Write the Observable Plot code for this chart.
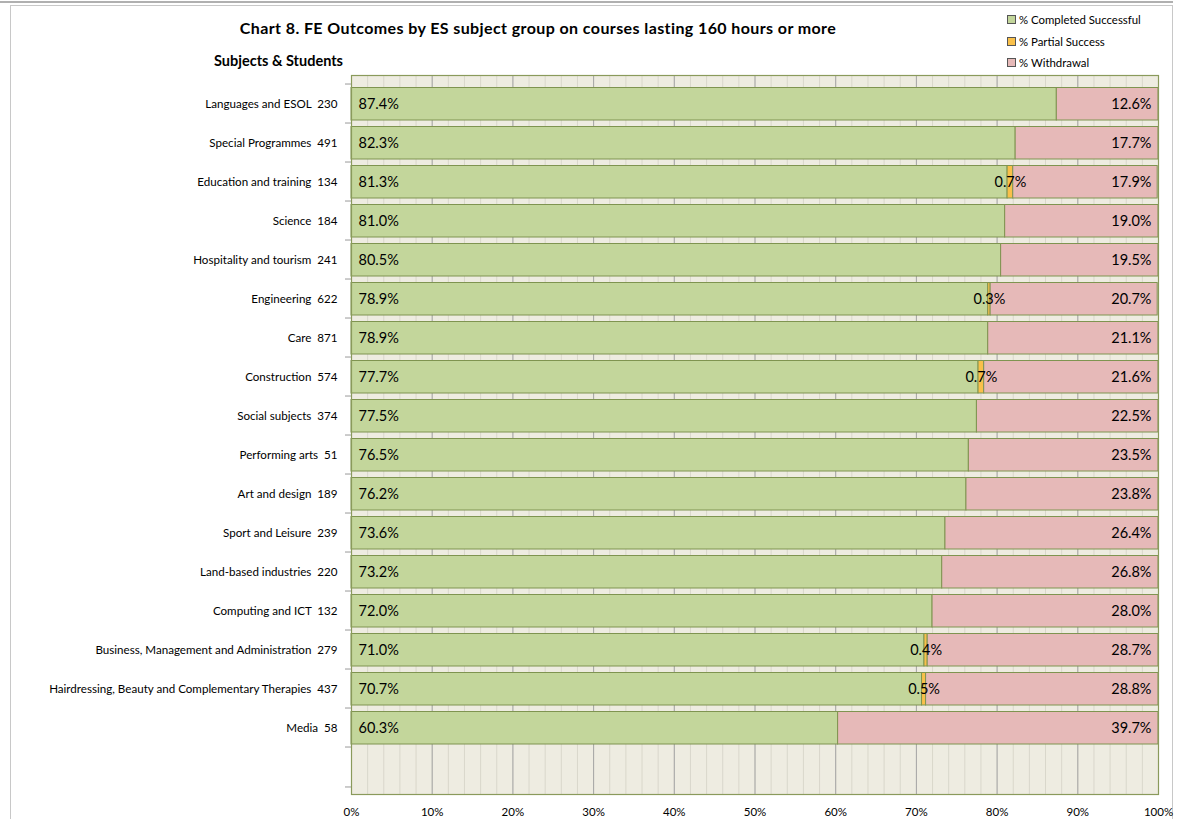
<!DOCTYPE html>
<html>
<head>
<meta charset="utf-8">
<script src="https://cdn.jsdelivr.net/npm/d3@7"></script>
<script src="https://cdn.jsdelivr.net/npm/@observablehq/plot@0.6"></script>
<style>
  html, body { margin: 0; padding: 0; background: #fff; }
  body { width: 1183px; height: 819px; position: relative; overflow: hidden; font-family: Lato, "Open Sans", sans-serif; }
  #topline { position: absolute; left: 0; top: 1px; width: 1173px; height: 0; border-top: 2px solid #b0b0b0; }
  #box { position: absolute; left: 10px; top: 5px; width: 1161px; height: 830px; border: 1px solid #c8c8c8; }
  #chart { position: absolute; left: 0; top: 0; }
  #title { position: absolute; left: 0; width: 1076px; top: 18px; text-align: center; font-weight: bold; font-size: 16px; letter-spacing: 0.4px; color: #000; }
  #ytitle { position: absolute; right: 840px; top: 52px; font-weight: bold; font-size: 14.5px; color: #000; white-space: nowrap; }
  #legend { position: absolute; left: 1007px; top: 12px; font-size: 11.4px; color: #000; }
  #legend div { height: 21.5px; line-height: 16px; white-space: nowrap; }
  #legend span.sw { display: inline-block; width: 7px; height: 7px; border: 1px solid #555; margin-right: 3px; vertical-align: 0px; }
</style>
</head>
<body>
<div id="topline"></div>
<div id="box"></div>
<div id="chart"></div>
<div id="title">Chart 8. FE Outcomes by ES subject group on courses lasting 160 hours or more</div>
<div id="ytitle">Subjects &amp; Students</div>
<div id="legend"></div>
<script>
const subjects = [
  "Languages and ESOL", "Special Programmes", "Education and training", "Science",
  "Hospitality and tourism", "Engineering", "Care", "Construction", "Social subjects",
  "Performing arts", "Art and design", "Sport and Leisure", "Land-based industries",
  "Computing and ICT", "Business, Management and Administration",
  "Hairdressing, Beauty and Complementary Therapies", "Media"
];
const students = [230, 491, 134, 184, 241, 622, 871, 574, 374, 51, 189, 239, 220, 132, 279, 437, 58];
const completed = [87.4, 82.3, 81.3, 81.0, 80.5, 78.9, 78.9, 77.7, 77.5, 76.5, 76.2, 73.6, 73.2, 72.0, 71.0, 70.7, 60.3];
const partial   = [0, 0, 0.7, 0, 0, 0.3, 0, 0.7, 0, 0, 0, 0, 0, 0, 0.4, 0.5, 0];
const withdrawal = [12.6, 17.7, 17.9, 19.0, 19.5, 20.7, 21.1, 21.6, 22.5, 23.5, 23.8, 26.4, 26.8, 28.0, 28.7, 28.8, 39.7];
const seriesNames = ["% Completed Successful", "% Partial Success", "% Withdrawal"];
const seriesColors = ["#C3D69B", "#F9C04A", "#E6B9B8"];
const xTicks = [0, 10, 20, 30, 40, 50, 60, 70, 80, 90, 100];
const xMinor = d3.range(0, 101, 2);

const labels = subjects.map((s, i) => `${s}\u00a0\u00a0${students[i]}`);
const yDomain = [...labels, ""];
const seriesValues = [completed, partial, withdrawal];

const rows = [];
labels.forEach((lab, i) => {
  seriesNames.forEach((sn, k) => rows.push({label: lab, series: sn, value: seriesValues[k][i]}));
});
const cats = labels.map((lab, i) => ({label: lab, c: completed[i], p: partial[i], w: withdrawal[i]}));

const W = 1183, H = 819;
const mL = 351, mR = 25, mT = 75, mB = 25;
const band = (H - mT - mB) / yDomain.length;

const chart = Plot.plot({
  width: W, height: H,
  marginLeft: mL, marginRight: mR, marginTop: mT, marginBottom: mB,
  style: {fontFamily: "Lato, 'Open Sans', sans-serif", background: "transparent", color: "#000"},
  x: {domain: [0, 100], clamp: true, axis: null},
  y: {domain: yDomain, padding: 0, axis: null},
  color: {domain: seriesNames, range: seriesColors},
  marks: [
    Plot.frame({fill: "#EEECE1"}),
    Plot.ruleX(xMinor, {stroke: "#D9D7CB", strokeWidth: 1}),
    Plot.ruleX(xTicks, {stroke: "#A6A6A6", strokeWidth: 1}),
    Plot.barX(rows, Plot.stackX({
      x: "value", y: "label", fill: "series", order: seriesNames,
      stroke: "#7F9450", strokeWidth: 1, insetTop: 3.5, insetBottom: 3
    })),
    Plot.frame({stroke: "#8A9A5B", strokeWidth: 1.2}),
    Plot.ruleY(yDomain, {y: d => d, x1: 0, x2: 0, insetLeft: -6, dy: -band / 2, stroke: "#999"}),
    Plot.ruleY([""], {y: d => d, x1: 0, x2: 0, insetLeft: -6, dy: band / 2, stroke: "#999"}),
    Plot.axisX(xTicks, {tickSize: 0, tickPadding: 13, tickFormat: d => d + "%", fontSize: 11.5, anchor: "bottom", label: null}),
    Plot.axisY(labels, {tickSize: 0, tickPadding: 14, fontSize: 11.6, anchor: "left", label: null}),
    Plot.text(cats, {y: "label", text: d => d.c.toFixed(1) + "%", frameAnchor: "left", dx: 7, textAnchor: "start", fontSize: 14.5, fill: "#000"}),
    Plot.text(cats, {y: "label", text: d => d.w.toFixed(1) + "%", frameAnchor: "right", dx: -7, textAnchor: "end", fontSize: 14.5, fill: "#000"}),
    Plot.text(cats.filter(d => d.p > 0), {y: "label", x: d => d.c + d.p / 2, text: d => d.p.toFixed(1) + "%", textAnchor: "middle", fontSize: 14.5, fill: "#000"})
  ]
});
document.getElementById("chart").appendChild(chart);

const legend = document.getElementById("legend");
seriesNames.forEach((sn, k) => {
  const row = document.createElement("div");
  const sw = document.createElement("span");
  sw.className = "sw";
  sw.style.background = seriesColors[k];
  row.appendChild(sw);
  row.appendChild(document.createTextNode(sn));
  legend.appendChild(row);
});
</script>
</body>
</html>
